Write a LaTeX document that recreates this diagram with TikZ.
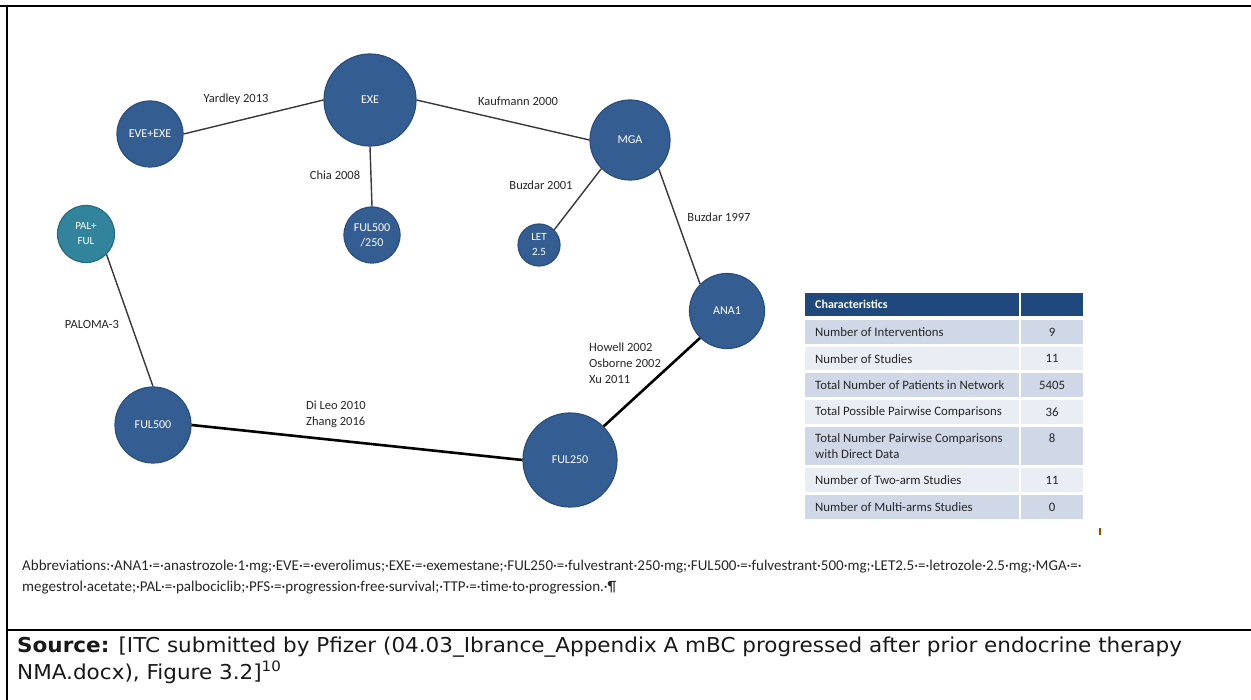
\documentclass[tikz,border=0pt]{standalone}
\usepackage{fontspec}
\setmainfont{Carlito}
\newfontfamily\srcfont[FakeStretch=1.05]{DejaVu Sans}
\definecolor{nodeblue}{HTML}{345E92}
\definecolor{nodeborder}{HTML}{2A4F7E}
\definecolor{palteal}{HTML}{31849B}
\definecolor{palborder}{HTML}{276C7F}
\definecolor{hdr}{HTML}{1F497D}
\definecolor{rowa}{HTML}{D0D8E8}
\definecolor{rowb}{HTML}{E9EDF4}
\definecolor{edgecol}{HTML}{383838}
\tikzset{
  net/.style={circle, fill=nodeblue, draw=nodeborder, line width=1.2pt, inner sep=0pt,
    text=white, font=\fontsize{12}{15}\selectfont, align=center},
  palnode/.style={net, fill=palteal, draw=palborder},
  edge/.style={draw=edgecol, line width=1.4pt},
  thickedge/.style={draw=black, line width=2.6pt},
  elabel/.style={font=\fontsize{12.5}{16}\selectfont, text=black!85, inner sep=0pt, align=left},
  cellbox/.style={anchor=north west, inner sep=0pt},
  celltxt/.style={anchor=west, inner sep=0pt, font=\fontsize{12.8}{16}\selectfont, text=black!85, align=left},
  valtxt/.style={inner sep=0pt, font=\fontsize{12.8}{16}\selectfont, text=black!85},
  frame/.style={draw=black, line width=2.2pt},
}
\begin{document}
\begin{tikzpicture}[x=1pt,y=-1pt]
\useasboundingbox (0,0) rectangle (1251,700);
% frame
\draw[frame] (0,6) -- (1251,6);
\draw[frame] (7,6) -- (7,700);
\draw[frame] (7,630) -- (1251,630);

% nodes
\node[net, minimum size=92pt] (EXE) at (370,100) {EXE};
\node[net, minimum size=66pt] (EVEEXE) at (150,134) {EVE+EXE};
\node[net, minimum size=56pt] (FUL500250) at (372,235) {FUL500\\/250};
\node[net, minimum size=80pt] (MGA) at (630,140) {MGA};
\node[net, minimum size=42pt, font=\fontsize{11}{15}\selectfont] (LET) at (539,245) {LET\\2.5};
\node[net, minimum size=75pt] (ANA1) at (727,311) {ANA1};
\node[palnode, minimum size=57pt, font=\fontsize{11}{15}\selectfont] (PALFUL) at (86,234) {PAL+\\FUL};
\node[net, minimum size=76pt] (FUL500) at (153,425) {FUL500};
\node[net, minimum size=94pt] (FUL250) at (570,460) {FUL250};

% edges
\draw[edge] (EVEEXE.east) -- (EXE.west);
\draw[edge] (EXE.east) -- (MGA.west);
\draw[edge] (EXE.south) -- (FUL500250.north);
\draw[edge] (MGA.south west) -- (LET.north east);
\draw[edge] (MGA.south east) -- (ANA1.north west);
\draw[edge] (PALFUL.south east) -- (FUL500.north);
\draw[thickedge] (FUL500.east) -- (FUL250.west);
\draw[thickedge] (ANA1.south west) -- (FUL250.north east);

% edge labels
\node[elabel] (l1) at (236,99) {Yardley 2013};
\node[elabel] (l2) at (518,101) {Kaufmann 2000};
\node[elabel] (l3) at (335,175) {Chia 2008};
\node[elabel] (l4) at (541,185) {Buzdar 2001};
\node[elabel] (l5) at (719,217) {Buzdar 1997};
\node[elabel] (l6) at (92,324) {PALOMA-3};
\node[elabel, anchor=west] (l7) at (306,414) {Di Leo 2010\\Zhang 2016};
\node[elabel, anchor=west] (l8) at (589,363) {Howell 2002\\Osborne 2002\\Xu 2011};

% table
\node[cellbox, fill=hdr, minimum width=214pt, minimum height=23pt] (h1) at (805,293) {};
\node[cellbox, fill=hdr, minimum width=62pt, minimum height=23pt] (h2) at (1021,293) {};
\node[celltxt, text=white, font=\bfseries\fontsize{12}{14}\selectfont] at ([xshift=10pt]h1.west) {Characteristics};

\node[cellbox, fill=rowa, minimum width=214pt, minimum height=24pt] (a1) at (805,320) {};
\node[cellbox, fill=rowa, minimum width=62pt, minimum height=24pt] (b1) at (1021,320) {};
\node[celltxt] at ([xshift=10pt]a1.west) {Number of Interventions};
\node[valtxt] at (b1.center) {9};

\node[cellbox, fill=rowb, minimum width=214pt, minimum height=23pt] (a2) at (805,347) {};
\node[cellbox, fill=rowb, minimum width=62pt, minimum height=23pt] (b2) at (1021,347) {};
\node[celltxt] at ([xshift=10pt]a2.west) {Number of Studies};
\node[valtxt] at (b2.center) {11};

\node[cellbox, fill=rowa, minimum width=214pt, minimum height=24pt] (a3) at (805,373) {};
\node[cellbox, fill=rowa, minimum width=62pt, minimum height=24pt] (b3) at (1021,373) {};
\node[celltxt] at ([xshift=10pt]a3.west) {Total Number of Patients in Network};
\node[valtxt] at (b3.center) {5405};

\node[cellbox, fill=rowb, minimum width=214pt, minimum height=24pt] (a4) at (805,400) {};
\node[cellbox, fill=rowb, minimum width=62pt, minimum height=24pt] (b4) at (1021,400) {};
\node[celltxt] at ([xshift=10pt]a4.west) {Total Possible Pairwise Comparisons};
\node[valtxt] at (b4.center) {36};

\node[cellbox, fill=rowa, minimum width=214pt, minimum height=38pt] (a5) at (805,427) {};
\node[cellbox, fill=rowa, minimum width=62pt, minimum height=38pt] (b5) at (1021,427) {};
\node[celltxt] at ([xshift=10pt]a5.west) {Total Number Pairwise Comparisons\\with Direct Data};
\node[valtxt] at ([yshift=-11pt]b5.north) {8};

\node[cellbox, fill=rowb, minimum width=214pt, minimum height=24pt] (a6) at (805,468) {};
\node[cellbox, fill=rowb, minimum width=62pt, minimum height=24pt] (b6) at (1021,468) {};
\node[celltxt] at ([xshift=10pt]a6.west) {Number of Two-arm Studies};
\node[valtxt] at (b6.center) {11};

\node[cellbox, fill=rowa, minimum width=214pt, minimum height=24pt] (a7) at (805,495) {};
\node[cellbox, fill=rowa, minimum width=62pt, minimum height=24pt] (b7) at (1021,495) {};
\node[celltxt] at ([xshift=10pt]a7.west) {Number of Multi-arms Studies};
\node[valtxt] at (b7.center) {0};

% small mark
\fill[fill=orange!60!black] (1098.5,528) rectangle (1100.5,535);

% abbreviations
\node[anchor=north west, inner sep=0pt, align=left, font=\fontsize{15}{21}\selectfont, text=black!85] (abbr) at (22,560)
{Abbreviations:·ANA1·=·anastrozole·1·mg;·EVE·=·everolimus;·EXE·=·exemestane;·FUL250·=·fulvestrant·250·mg;·FUL500·=·fulvestrant·500·mg;·LET2.5·=·letrozole·2.5·mg;·MGA·=·\\
megestrol·acetate;·PAL·=·palbociclib;·PFS·=·progression·free·survival;·TTP·=·time·to·progression.·¶};

% source
\node[anchor=north west, inner sep=0pt, align=left, font=\srcfont\fontsize{20.5}{27}\selectfont, text=black!90] (src) at (17,636.5)
{\textbf{Source:} [ITC submitted by Pfizer (04.03\_Ibrance\_Appendix A mBC progressed after prior endocrine therapy\\
NMA.docx), Figure 3.2]\textsuperscript{10}};
\end{tikzpicture}
\end{document}
